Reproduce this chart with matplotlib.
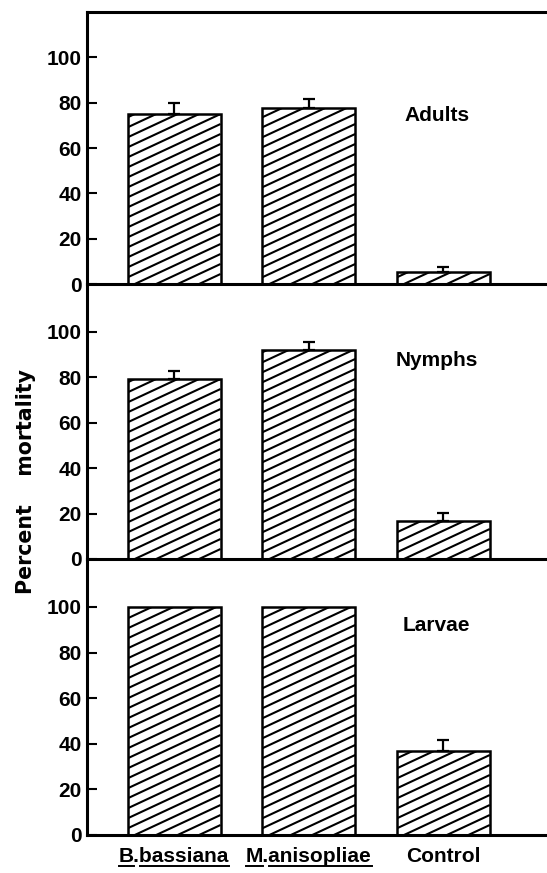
import numpy as np
import matplotlib
matplotlib.use("Agg")
import matplotlib.pyplot as plt
from matplotlib.collections import LineCollection
from matplotlib.lines import Line2D
from matplotlib.transforms import IdentityTransform

# data
treatments = ["B.bassiana", "M.anisopliae", "Control"]
stages = ["Adults", "Nymphs", "Larvae"]
adults = [75, 77.5, 5.5]
adults_err = [4.8, 4.2, 2.2]
nymphs = [79, 92, 16.7]
nymphs_err = [3.8, 3.3, 3.7]
larvae = [100, 100, 37]
larvae_err = [0, 0, 4.6]
yticks = [0, 20, 40, 60, 80, 100]

W, H = 547, 873
DPI = 100
FAM = ["Liberation Sans", "DejaVu Sans"]
FS = 15

fig = plt.figure(figsize=(W / DPI, H / DPI), dpi=DPI)

# panel edges in pixels (top, zero line, ylim top)
panels = [(12, 284, 120), (284, 559, 121), (559, 835, 121)]
label_y = [72, 85, 89.5]
x = np.arange(len(treatments))
xlim = (-0.647, 2.77)
bar_w = 0.69


def add_hatch(ax, bar, spacing=10, angle=25):
    bb = bar.get_window_extent()
    if bb.height < 1:
        return
    rise = bb.width * np.tan(np.radians(angle))
    segs = []
    c = bb.y0 - rise
    while c < bb.y1:
        segs.append([(bb.x0, c), (bb.x1, c + rise)])
        c += spacing
    lc = LineCollection(segs, colors="black", linewidths=1.5,
                        transform=IdentityTransform(), zorder=2)
    ax.add_collection(lc, autolim=False)
    # set the clip after adding, add_collection would reset it
    lc.set_clip_path(bar)


axes = []
for i, (top, zero, ymax) in enumerate(panels):
    ax = fig.add_axes([87 / W, (H - zero) / H, 1 - 87 / W, (zero - top) / H])
    ax.patch.set_visible(False)
    axes.append(ax)
    vals, errs = [(adults, adults_err), (nymphs, nymphs_err), (larvae, larvae_err)][i]
    ax.set_xlim(*xlim)
    ax.set_ylim(0, ymax)

    bars = ax.bar(x, vals, width=bar_w, facecolor="none", edgecolor="black",
                  linewidth=1.8, zorder=3)
    for b in bars:
        add_hatch(ax, b)
    keep = [e > 0 for e in errs]
    xe = [xx for xx, k in zip(x, keep) if k]
    ve = [v for v, k in zip(vals, keep) if k]
    ee = [e for e, k in zip(errs, keep) if k]
    ax.errorbar(xe, ve, yerr=[np.zeros(len(ee)), ee], fmt="none",
                ecolor="black", elinewidth=1.6, capsize=4, capthick=1.6,
                zorder=4)

    ax.text(1.95, label_y[i], stages[i], ha="center", va="baseline",
            fontsize=FS, fontweight="bold", family=FAM)

    ax.spines["right"].set_visible(False)
    ax.spines["top"].set_visible(i == 0)
    for s in ["left", "bottom", "top"]:
        ax.spines[s].set_linewidth(2.2)
    ax.set_yticks(yticks)
    ax.set_yticklabels([str(t) for t in yticks], fontsize=FS,
                       fontweight="bold", family=FAM)
    ax.tick_params(axis="y", direction="in", length=7.5, width=1.5, pad=4)
    if i < 2:
        ax.set_xticks([])
    else:
        ax.set_xticks(x)
        ax.set_xticklabels(treatments, fontsize=FS, fontweight="bold",
                           family=FAM)
        ax.tick_params(axis="x", length=0, pad=9)

fig.text(26 / W, (H - 481) / H, "Percent    mortality", rotation=90,
         ha="center", va="center", fontsize=14.8, fontweight="bold",
         family="DejaVu Sans")

# underline the genus names (both parts, not the dot)
fig.canvas.draw()
renderer = fig.canvas.get_renderer()
for lab in axes[2].get_xticklabels():
    s = lab.get_text()
    if "." not in s:
        continue
    bb = lab.get_window_extent(renderer)
    fp = lab.get_fontproperties()
    first = s.split(".", 1)[0]
    w1 = renderer.get_text_width_height_descent(first, fp, ismath=False)[0]
    w2 = renderer.get_text_width_height_descent(first + ".", fp, ismath=False)[0]
    yline = H - 866
    for xa, xb in [(bb.x0, bb.x0 + w1), (bb.x0 + w2, bb.x1)]:
        fig.add_artist(Line2D([xa / W, xb / W], [yline / H, yline / H],
                              transform=fig.transFigure, color="black",
                              linewidth=1.4))

fig.savefig("out.png", dpi=DPI)
